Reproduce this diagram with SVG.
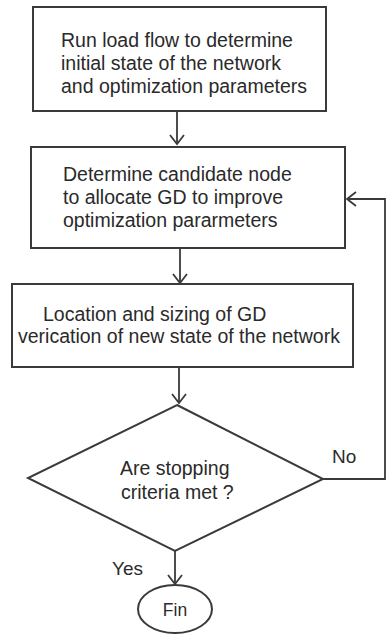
<svg xmlns="http://www.w3.org/2000/svg" width="387" height="642" viewBox="0 0 387 642">
<style>
.box{fill:#fff;stroke:#3a3a3a;stroke-width:2}
.t{font-family:"Liberation Sans",Arial,sans-serif;font-size:19.5px;fill:#2a2a2a}
.c{fill:none;stroke:#3a3a3a;stroke-width:1.8}
</style>
<defs>
<marker id="ah" markerUnits="userSpaceOnUse" markerWidth="12" markerHeight="16" refX="10" refY="8" orient="auto">
<path d="M1,1 L10,8 L1,15" fill="none" stroke="#3a3a3a" stroke-width="1.8"/>
</marker>
</defs>
<rect width="387" height="642" fill="#fff"/>
<g id="n1">
<rect class="box" x="33" y="7" width="293" height="104"/>
<text class="t" x="61" y="47">Run load flow to determine</text>
<text class="t" x="61" y="70">initial state of the network</text>
<text class="t" x="61" y="93">and optimization parameters</text>
</g>
<g id="n2">
<rect class="box" x="31" y="147" width="314" height="101"/>
<text class="t" x="63" y="181">Determine candidate node</text>
<text class="t" x="63" y="204">to allocate GD to improve</text>
<text class="t" x="63" y="227">optimization pararmeters</text>
</g>
<g id="n3">
<rect class="box" x="12" y="284" width="341" height="83"/>
<text class="t" x="43" y="321">Location and sizing of GD</text>
<text class="t" x="18" y="343">verication of new state of the network</text>
</g>
<g id="n4">
<polygon class="box" points="177,405 323,479 175,551 28,478"/>
<text class="t" x="120" y="475">Are stopping</text>
<text class="t" x="121" y="499">criteria met ?</text>
</g>
<g id="n5">
<ellipse class="box" cx="175" cy="609" rx="37" ry="24"/>
<text class="t" x="175" y="616" text-anchor="middle" style="font-size:17.5px">Fin</text>
</g>
<g id="connectors">
<line class="c" x1="177" y1="111" x2="177" y2="144" marker-end="url(#ah)"/>
<line class="c" x1="180" y1="248" x2="180" y2="283" marker-end="url(#ah)"/>
<line class="c" x1="179" y1="367" x2="179" y2="403" marker-end="url(#ah)"/>
<line class="c" x1="175" y1="551" x2="175" y2="584" marker-end="url(#ah)"/>
<polyline class="c" points="323,479 385,479 385,199 347,199" marker-end="url(#ah)"/>
<text class="t" x="332" y="463" style="font-size:19px">No</text>
<text class="t" x="112" y="575" style="font-size:19px">Yes</text>
</g>
</svg>
